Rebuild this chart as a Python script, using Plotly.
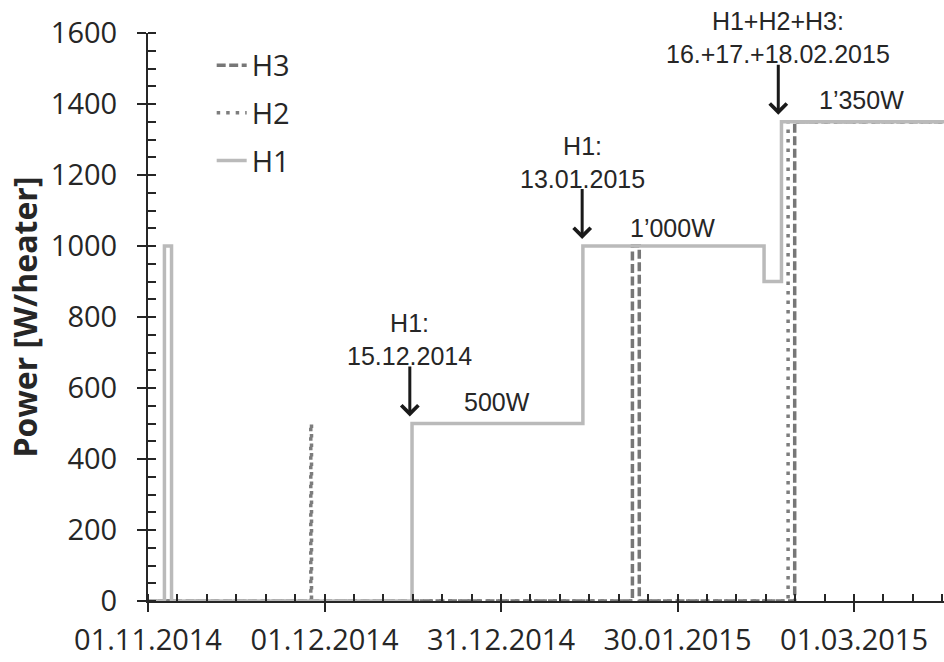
import plotly.graph_objects as go

# ---- data ----
h1_time = ["2014-11-01 00:00", "2014-11-03 19:00", "2014-11-05 00:00", "2014-12-15 21:00",
           "2015-01-13 22:00", "2015-02-13 17:00", "2015-02-16 16:00", "2015-03-20 00:00"]
h1_power = [0, 1000, 0, 500, 1000, 900, 1350, 1350]

h2_time = ["2014-11-01 00:00", "2014-11-28 16:00", "2014-11-28 19:00", "2015-02-17 19:00",
           "2015-03-20 00:00"]
h2_power = [0, 500, 0, 1350, 1350]

h3_time = ["2014-11-01 00:00", "2015-01-22 08:00", "2015-01-23 12:00", "2015-02-18 22:00",
           "2015-03-20 00:00"]
h3_power = [0, 1000, 0, 1350, 1350]

y_ticks = [0, 200, 400, 600, 800, 1000, 1200, 1400, 1600]
x_tick0 = "2014-11-01"
x_range = ["2014-11-01 00:00", "2015-03-16 07:00"]

DAY_MS = 86400000
TXT = "#262626"
TICK_FONT = dict(family="Open Sans, sans-serif", size=29, color=TXT)
ANN_FONT = dict(family="Liberation Sans, Arial, sans-serif", size=25, color=TXT)

fig = go.Figure()
fig.add_trace(go.Scatter(x=h3_time, y=h3_power, name="H3", mode="lines", line_shape="hv",
                         line=dict(color="#777777", width=3.5, dash="9px,3.5px"), legendgroup="g3"))
fig.add_trace(go.Scatter(x=h2_time, y=h2_power, name="H2", mode="lines", line_shape="hv",
                         line=dict(color="#7d7d7d", width=3.5, dash="3.5px,6px"), legendgroup="g2"))
fig.add_trace(go.Scatter(x=h1_time, y=h1_power, name="H1", mode="lines", line_shape="hv",
                         line=dict(color="#bababa", width=3.5), legendgroup="g1"))

fig.update_xaxes(
    type="date", range=x_range, tick0=x_tick0, dtick=30 * DAY_MS, tickformat="%d.%m.%Y",
    showgrid=False, zeroline=False, showline=True, linecolor=TXT, linewidth=2,
    ticks="outside", ticklen=9, tickwidth=2, tickcolor=TXT, tickfont=TICK_FONT,
    ticklabelstandoff=3, automargin=False,
    minor=dict(dtick=5 * DAY_MS, tick0=x_tick0, ticks="inside", ticklen=7, tickwidth=2,
               tickcolor=TXT, showgrid=False),
)
fig.update_yaxes(
    range=[0, 1600], tickvals=y_ticks, showgrid=False, zeroline=False, showline=True,
    linecolor=TXT, linewidth=2, ticks="outside", ticklen=9, tickwidth=2, tickcolor=TXT,
    tickfont=TICK_FONT, ticklabelstandoff=14, automargin=False,
    minor=dict(dtick=50, ticks="inside", ticklen=8, tickwidth=2, tickcolor=TXT, showgrid=False),
    title=dict(text="<b>Power [W/heater]</b>", font=dict(family="Open Sans, sans-serif",
                                                          size=32, color=TXT), standoff=4),
)

annotations = [
    dict(x="2014-12-15 12:00", y=736, text="H1:<br>15.12.2014"),
    dict(x="2014-12-30 08:00", y=560, text="500W"),
    dict(x="2015-01-13 19:00", y=1235, text="H1:<br>13.01.2015"),
    dict(x="2015-01-29 02:00", y=1051, text="1\u2019000W"),
    dict(x="2015-02-16 03:00", y=1586, text="H1+H2+H3:<br>16.+17.+18.02.2015"),
    dict(x="2015-03-02 05:00", y=1411, text="1\u2019350W"),
]
for a in annotations:
    fig.add_annotation(x=a["x"], y=a["y"], text=a["text"], showarrow=False, font=ANN_FONT,
                       xanchor="center", yanchor="middle")

arrows = [("2014-12-15 12:00", 500), ("2015-01-13 19:00", 1000), ("2015-02-16 03:00", 1350)]
for ax_x, ax_y in arrows:
    fig.add_annotation(x=ax_x, y=ax_y, text=" ", font=dict(size=1), borderpad=0,
                       showarrow=True, ax=0, ay=-58, arrowhead=4,
                       arrowsize=1.1, arrowwidth=3, arrowcolor="#1a1a1a", standoff=7)

fig.update_layout(
    width=944, height=662, plot_bgcolor="white", paper_bgcolor="white",
    margin=dict(l=148, r=0, t=33, b=61),
    showlegend=True,
    legend=dict(x=0.08, y=0.988, xanchor="left", yanchor="top", font=TICK_FONT,
                bgcolor="rgba(0,0,0,0)", tracegroupgap=7, itemwidth=30),
)

fig.write_html("out.html", config={"displayModeBar": False},
               post_script="document.body.style.margin='0px';document.body.style.overflow='hidden';")
